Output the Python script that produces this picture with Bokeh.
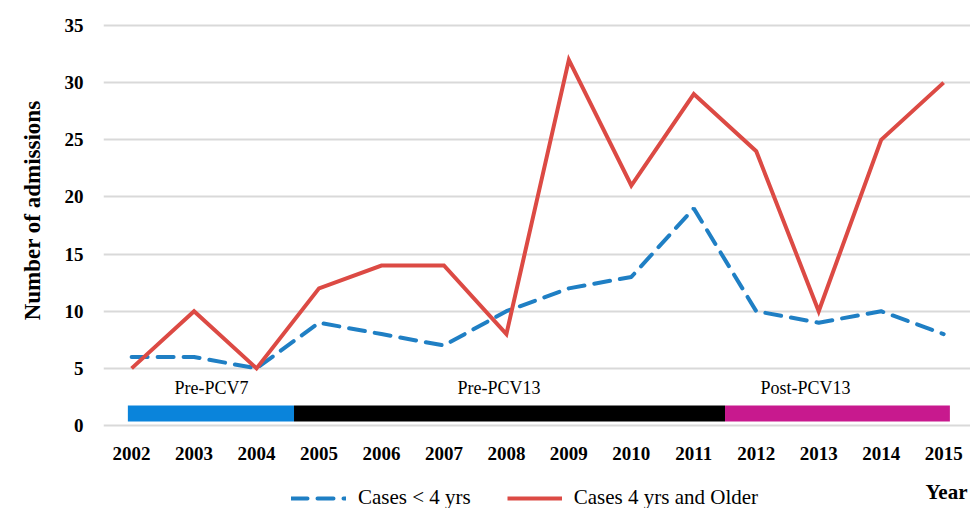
from bokeh.plotting import figure
from bokeh.models import ColumnDataSource, Range1d, FixedTicker, Legend, LegendItem, Label, LabelSet, Title
from bokeh.embed import file_html
from bokeh.resources import INLINE
from bokeh.core.properties import value

years = [2002, 2003, 2004, 2005, 2006, 2007, 2008, 2009, 2010, 2011, 2012, 2013, 2014, 2015]
year_labels = [str(y) for y in years]
cases_under4 = [6, 6, 5, 9, 8, 7, 10, 12, 13, 19, 10, 9, 10, 8]
cases_4plus = [5, 10, 5, 12, 14, 14, 8, 32, 21, 29, 24, 10, 25, 30]
y_ticks = [0, 5, 10, 15, 20, 25, 30, 35]

periods = ["Pre-PCV7", "Pre-PCV13", "Post-PCV13"]
period_start = [2001.94, 2004.6, 2011.5]
period_end = [2004.6, 2011.5, 2015.1]
period_colors = ["#0A84DB", "#000000", "#C8198E"]
period_label_x = [2003.28, 2007.88, 2012.79]

SERIF = "Liberation Serif"

p = figure(width=970, height=508, output_backend="svg", toolbar_location=None,
           x_range=Range1d(2001.55, 2015.43), y_range=Range1d(-7.26, 35.7),
           min_border_left=100, min_border_right=0, min_border_top=17, min_border_bottom=0)
p.outline_line_color = None
p.background_fill_color = "white"

# grid
p.xgrid.grid_line_color = None
p.ygrid.grid_line_color = "#d9d9d9"
p.ygrid.grid_line_width = 2
p.ygrid.ticker = FixedTicker(ticks=y_ticks)

# axes
p.xaxis.visible = False
p.yaxis.ticker = FixedTicker(ticks=y_ticks)
ax = p.yaxis[0]
ax.axis_line_color = None
ax.major_tick_line_color = None
ax.minor_tick_line_color = None
ax.major_label_text_font = SERIF
ax.major_label_text_font_style = "bold"
ax.major_label_text_font_size = "19px"
ax.major_label_text_color = "#000000"
ax.major_label_standoff = 14

p.add_layout(Title(text="Number of admissions", align="right", offset=83,
                   text_font=SERIF, text_font_style="bold", text_font_size="23px",
                   text_color="#000000", standoff=34), "left")

# x tick labels (categorical years)
xsrc = ColumnDataSource(dict(x=years, lab=year_labels, y=[-2.45] * len(years)))
p.add_layout(LabelSet(x="x", y="y", text="lab", source=xsrc, text_align="center",
                      text_baseline="middle", text_font=value(SERIF),
                      text_font_style="bold", text_font_size="19px", text_color="#000000"))

# period bar
psrc = ColumnDataSource(dict(left=period_start, right=period_end, color=period_colors,
                             name=periods, lx=period_label_x,
                             bottom=[0.35] * 3, top=[1.75] * 3, ly=[3.3] * 3))
p.quad(left="left", right="right", bottom="bottom", top="top", fill_color="color",
       line_color=None, source=psrc)
p.add_layout(LabelSet(x="lx", y="ly", text="name", source=psrc, text_align="center",
                      text_baseline="middle", text_font=value(SERIF),
                      text_font_size="18px", text_color="#000000"))

# series
src = ColumnDataSource(dict(year=years, a=cases_under4, b=cases_4plus))
r_blue = p.line("year", "a", source=src, line_color="#1F7FC4", line_width=4,
                line_dash="16 10", line_cap="round")
r_red = p.line("year", "b", source=src, line_color="#DC4A44", line_width=4,
               line_join="miter")

legend = Legend(items=[LegendItem(label="Cases < 4 yrs", renderers=[r_blue]),
                       LegendItem(label="Cases 4 yrs and Older", renderers=[r_red])],
                orientation="horizontal", location=(188, -2),
                label_text_font=SERIF, label_text_font_size="21px",
                label_text_color="#000000", glyph_width=55, label_standoff=12,
                spacing=36, border_line_color=None, background_fill_alpha=0,
                padding=0, margin=0)
p.add_layout(legend, "center")

p.add_layout(Label(x=2014.71, y=-5.86, text="Year", text_font=SERIF, text_font_style="bold",
                   text_font_size="21px", text_baseline="middle", text_color="#000000"))

open("out.html", "w").write(file_html(p, INLINE))
